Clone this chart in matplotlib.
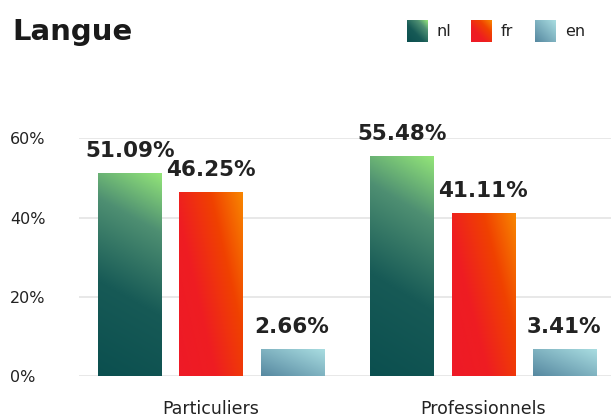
import numpy as np
import matplotlib
matplotlib.use("Agg")
import matplotlib.pyplot as plt
from matplotlib.colors import LinearSegmentedColormap

# data
categories = ["Particuliers", "Professionnels"]
series = ["nl", "fr", "en"]
nl_values = [51.09, 55.48]
fr_values = [46.25, 41.11]
en_values = [2.66, 3.41]
y_ticks = [0, 20, 40, 60]

# gradient styles: colour stops and (weight_x, weight_y) of the direction
styles = {
    "nl": ([(0.0, "#0b4f4f"), (0.4, "#175a56"), (0.75, "#4e8f72"), (1.0, "#92e479")], (0.15, 0.85)),
    "fr": ([(0.0, "#ee1a27"), (0.35, "#ee1d22"), (0.7, "#f04200"), (1.0, "#f88600")], (0.6, 0.4)),
    "en": ([(0.0, "#5688a0"), (1.0, "#a9dde1")], (0.5, 0.5)),
}
MIN_BAR = 6.8  # minimum visible bar length (like chart libs' minBarLength)
TEXT = "#222222"

W, H = 611, 415
fig = plt.figure(figsize=(W / 100, H / 100), dpi=100)
ax = fig.add_axes([79 / W, (H - 376) / H, (W - 79) / W, (376 - 138.3) / H])


def gradient_img(name, n=120):
    stops, (wx, wy) = styles[name]
    cmap = LinearSegmentedColormap.from_list(name, stops)
    u, v = np.meshgrid(np.linspace(0, 1, n), np.linspace(0, 1, n))
    t = (wx * u + wy * v) / (wx + wy)
    return cmap(t)


group = np.arange(len(categories))
offset = 0.298
width = 0.232
all_values = {"nl": nl_values, "fr": fr_values, "en": en_values}

for k, name in enumerate(series):
    vals = np.array(all_values[name])
    heights = np.maximum(vals, MIN_BAR)
    xs = group + (k - 1) * offset
    bars = ax.bar(xs, heights, width=width, color="none", zorder=2)
    img = gradient_img(name)
    for bar, val in zip(bars, vals):
        x0 = bar.get_x()
        x1 = x0 + bar.get_width()
        h = bar.get_height()
        ax.imshow(img, extent=(x0, x1, 0, h), origin="lower", aspect="auto",
                  zorder=2, interpolation="bilinear")
        ax.annotate(f"{val:.2f}%", (x0 + bar.get_width() / 2, h), xytext=(0, 9),
                    textcoords="offset points", ha="center", va="bottom",
                    fontsize=15.5, fontweight="bold", color=TEXT, annotation_clip=False)

ax.set_xlim(-0.485, 1.47)
ax.set_ylim(0, 60)
ax.set_yticks(y_ticks)
ax.set_yticklabels([f"{t}%" for t in y_ticks])
ax.set_xticks(group)
ax.set_xticklabels(categories)
ax.grid(axis="y", color="#e6e6e6", linewidth=1.3, zorder=0)
ax.set_axisbelow(True)
for s in ax.spines.values():
    s.set_visible(False)
ax.tick_params(axis="y", length=0, pad=49.5, labelsize=11.5, labelcolor=TEXT)
for lbl in ax.get_yticklabels():
    lbl.set_horizontalalignment("left")
ax.tick_params(axis="x", length=0, pad=17, labelsize=12.5, labelcolor=TEXT)

# title
fig.text(12 / W, 1 - 32 / H, "Langue", fontsize=21, fontweight="bold",
         color="#1a1a1a", va="center", ha="left")

# legend
leg_x = [407, 471, 535]
for name, lx in zip(series, leg_x):
    lax = fig.add_axes([lx / W, (H - 42) / H, 21 / W, 22 / H])
    stops = styles[name][0]
    cmap = LinearSegmentedColormap.from_list(name + "_leg", stops)
    u, v = np.meshgrid(np.linspace(0, 1, 40), np.linspace(0, 1, 40))
    lax.imshow(cmap((u + v) / 2), origin="lower", aspect="auto")
    lax.axis("off")
    fig.text((lx + 30) / W, 1 - 31 / H, name, fontsize=11.5, color=TEXT,
             va="center", ha="left")

fig.savefig("out.png", dpi=100)
